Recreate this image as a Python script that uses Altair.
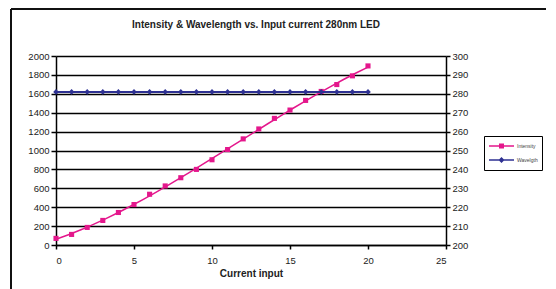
import altair as alt
import pandas as pd

current = list(range(0, 21))
intensity = [70, 112, 186, 260, 344, 428, 537, 625, 712, 800, 902, 1010, 1123, 1228,
             1340, 1428, 1530, 1625, 1698, 1790, 1895]
wavelength = [281] * 21
series_names = ["Intensity", "Wavelgth"]
title_text = "Intensity & Wavelength vs. Input current 280nm LED"
x_ticks = [0, 5, 10, 15, 20, 25]
left_ticks = list(range(0, 2001, 200))
right_ticks = list(range(200, 301, 10))

PINK = "#E4178C"
NAVY = "#2E3192"
FONT = "Liberation Sans"

df = pd.DataFrame({"current": current, "intensity": intensity, "wavelength": wavelength})
legend_df = pd.DataFrame({"series": series_names})
frame_df = pd.DataFrame({"a": [0]})
title_df = pd.DataFrame({"t": [title_text]})

x_axis = alt.Axis(values=x_ticks, tickCount=len(x_ticks), title="Current input",
                  grid=False, domainColor="black", domainWidth=1.5,
                  tickColor="black", tickSize=4, tickWidth=1.5,
                  labelFontSize=9.5, labelColor="#222", labelPadding=6,
                  labelOverlap=False,
                  titleFontSize=10, titleFontWeight="bold", titleColor="#222",
                  titlePadding=4, labelFont=FONT, titleFont=FONT)
x_scale = alt.Scale(domain=[0, 25], nice=False)

y_left = alt.Axis(values=left_ticks, tickCount=len(left_ticks), title=None, grid=True,
                  format="d", gridColor="black", gridWidth=1.6, domainColor="black",
                  domainWidth=1.5, tickColor="black", tickSize=5, tickWidth=1.5,
                  labelFontSize=9.5, labelColor="#222", labelPadding=2, labelFont=FONT,
                  labelOverlap=False)
y_right = alt.Axis(values=right_ticks, tickCount=len(right_ticks), title=None, grid=False,
                   orient="right", format="d", domainColor="black", domainWidth=1.5,
                   tickColor="black", tickSize=4, tickWidth=1.5, labelFontSize=9.5,
                   labelColor="#222", labelPadding=2, labelFont=FONT, labelOverlap=False)
left_scale = alt.Scale(domain=[0, 2000], nice=False)
right_scale = alt.Scale(domain=[200, 300], nice=False)

base = alt.Chart(df)

int_points = base.mark_square(color=PINK, size=26, opacity=1).encode(
    x=alt.X("current:Q", scale=x_scale, axis=x_axis),
    y=alt.Y("intensity:Q", scale=left_scale, axis=y_left),
)
int_trend = base.transform_regression(
    "current", "intensity", method="poly", order=3, extent=[0, 20]
).mark_line(color=PINK, strokeWidth=1.5).encode(
    x=alt.X("current:Q", scale=x_scale, axis=x_axis),
    y=alt.Y("intensity:Q", scale=left_scale, axis=y_left))

path_sq = "M-1,-0.15H4V0.15H-1Z M1,-0.5H2V0.5H1Z"
path_di = "M-1,-0.15H4V0.15H-1Z M1.5,-0.6L2.1,0L1.5,0.6L0.9,0Z"
leg = alt.Legend(title=None, orient="none", legendX=428, legendY=80,
                 strokeColor="black", padding=4, labelFontSize=5, labelColor="#444",
                 labelFont=FONT, symbolSize=100, labelOffset=17, rowPadding=2,
                 symbolOpacity=1)
legend_layer = alt.Chart(legend_df).mark_point(filled=True, opacity=0).encode(
    color=alt.Color("series:N", scale=alt.Scale(domain=series_names, range=[PINK, NAVY]),
                    legend=leg),
    shape=alt.Shape("series:N", scale=alt.Scale(domain=series_names, range=[path_sq, path_di]),
                    legend=leg),
)

wl_line = base.mark_line(color=NAVY, strokeWidth=2).encode(
    x=alt.X("current:Q", scale=x_scale, axis=x_axis),
    y=alt.Y("wavelength:Q", scale=right_scale, axis=y_right),
)
wl_points = base.mark_point(shape="diamond", filled=True, color=NAVY, size=32, opacity=1).encode(
    x=alt.X("current:Q", scale=x_scale, axis=x_axis),
    y=alt.Y("wavelength:Q", scale=right_scale, axis=y_right))

border_left = alt.Chart(frame_df).mark_rule(color="#111", strokeWidth=2).encode(
    x=alt.value(-45), y=alt.value(-47), y2=alt.value(300))
border_top = alt.Chart(frame_df).mark_rule(color="#111", strokeWidth=2).encode(
    x=alt.value(-45), x2=alt.value(600), y=alt.value(-47))
title_mark = alt.Chart(title_df).mark_text(
    fontSize=10, fontWeight="bold", font=FONT, color="#222", align="center", baseline="middle"
).encode(text="t:N", x=alt.value(200), y=alt.value(-31))

left = alt.layer(int_trend, int_points, legend_layer)
right = alt.layer(wl_line, wl_points)

chart = alt.layer(left, right, border_left, border_top, title_mark).resolve_scale(
    y="independent", color="independent", shape="independent"
).properties(
    width=390, height=189,
    autosize=alt.AutoSizeParams(type="none"),
    padding={"left": 48, "top": 48, "right": 100, "bottom": 44},
).configure_view(stroke=None)

chart.save("out.html", embed_options={"renderer": "svg", "actions": False})
